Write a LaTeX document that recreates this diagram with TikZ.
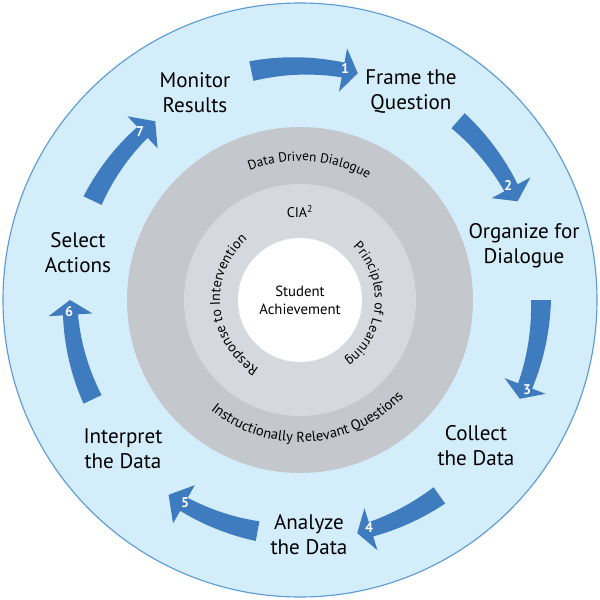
\documentclass[tikz,border=0pt]{standalone}
\usepackage{fontspec}
\setmainfont{PT Sans}
\usetikzlibrary{decorations.text}
\definecolor{bgblue}{HTML}{D3EEFA}
\definecolor{rimblue}{HTML}{5B9BD5}
\definecolor{arrblue}{HTML}{3E7BBF}
\definecolor{ringgray}{HTML}{C4C7CC}
\definecolor{innergray}{HTML}{D5D9DD}
% #1 radius, #2 tail angle, #3 head-base angle, #4 tip angle
\newcommand\arcarr[4]{%
  \fill[arrblue] plot[domain=#2:#3, samples=30] (\x:{#1+10-2.5*(#2-\x)/(#2-#3)})
    -- ({#3}:{#1+22}) -- ({#4}:{#1}) -- ({#3}:{#1-22})
    -- plot[domain=#3:#2, samples=30] (\x:{#1-10+2.5*(#2-\x)/(#2-#3)}) -- cycle;}
\begin{document}
\begin{tikzpicture}[x=0.025cm, y=0.025cm,
  lab/.style={align=center, font=\fontsize{15}{17.8}\selectfont},
  num/.style={text=white, font=\bfseries\fontsize{10}{11}\selectfont, inner sep=0pt},
  curved/.style={decorate, decoration={text along path, text align=center, text={#1}}}]
\useasboundingbox (-300,-300) rectangle (300,300);
\fill[bgblue, draw=rimblue, line width=0.8pt] (0,0) circle[radius=297];
\fill[ringgray] (0,0) circle[radius=173];
\fill[innergray] (0,0) circle[radius=116];
\fill[white] (0,0) circle[radius=62];

% arrows
\arcarr{234}{102}{79.4}{75.7}
\arcarr{239}{48.6}{28}{24.4}
\arcarr{241}{0}{-20.9}{-24.2}
\arcarr{240}{-54.5}{-72.8}{-76.2}
\arcarr{235}{-100.4}{-119.6}{-124}
\arcarr{230}{205.6}{183.7}{180}
\arcarr{230}{154.4}{133.2}{129}

% numbers
\node[num] (n1) at (45,232) {1};
\node[num] (n2) at (208,115) {2};
\node[num] (n3) at (227,-90) {3};
\node[num] (n4) at (69,-228) {4};
\node[num] (n5) at (-115,-203) {5};
\node[num] (n6) at (-231,-12) {6};
\node[num] (n7) at (-160,168) {7};

% outer labels
\node[lab] (monitor) at (-105,207.5) {Monitor\\Results};
\node[lab] (frame) at (111,208) {Frame the\\Question};
\node[lab] (organize) at (224,54) {Organize for\\Dialogue};
\node[lab] (collect) at (176,-146) {Collect\\the Data};
\node[lab] (analyze) at (9,-235) {Analyze\\the Data};
\node[lab] (interpret) at (-177,-149) {Interpret\\the Data};
\node[lab] (select) at (-222,47) {Select\\Actions};

% inner texts
\node[align=center, font=\fontsize{10.5}{12.8}\selectfont] (student) at (0,0) {Student\\Achievement};
\node[font=\fontsize{10}{12}\selectfont] (cia) at (0,88) {CIA\textsuperscript{2}};

\path[curved={|\fontsize{9.5}{11}\selectfont|Data Driven Dialogue}] (146:139) arc[start angle=146, end angle=26, radius=139];
\path[curved={|\fontsize{10.3}{12}\selectfont|Instructionally Relevant Questions}] (204:142) arc[start angle=204, end angle=344, radius=142];
\path[curved={|\fontsize{10}{12}\selectfont|Response to Intervention}] (265:80) arc[start angle=265, end angle=105, radius=80];
\path[curved={|\fontsize{9.8}{12}\selectfont|Principles of Learning}] (76:75) arc[start angle=76, end angle=-84, radius=75];
\end{tikzpicture}
\end{document}
